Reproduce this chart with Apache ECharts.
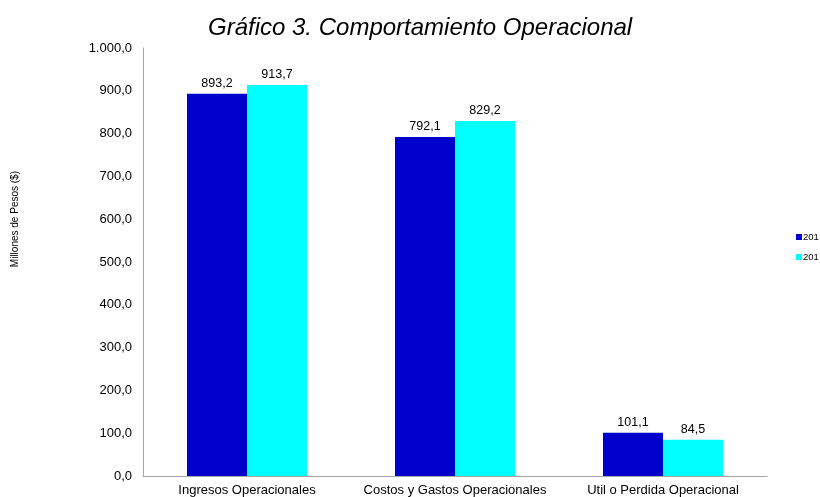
<!DOCTYPE html>
<html>
<head>
<meta charset="utf-8">
<script src="https://cdn.jsdelivr.net/npm/echarts@6/dist/echarts.min.js"></script>
<style>html,body{margin:0;padding:0;background:#fff}#c{width:820px;height:497px}</style>
</head>
<body>
<div id="c"></div>
<script>
const categories = ['Ingresos Operacionales', 'Costos y Gastos Operacionales', 'Util o Perdida Operacional'];
const seriesNames = ['2011', '2012'];
const valuesA = [893.2, 792.1, 101.1];
const valuesB = [913.7, 829.2, 84.5];
const yTicks = { min: 0, max: 1000, interval: 100 };

function fmt(v) {
  const s = Number(v).toFixed(1).split('.');
  const int = s[0].replace(/\B(?=(\d{3})+(?!\d))/g, '.');
  return int + ',' + s[1];
}

const font = 'Liberation Sans, Arial, sans-serif';
const chart = echarts.init(document.getElementById('c'));
chart.setOption({
  animation: false,
  title: {
    text: 'Gráfico 3. Comportamiento Operacional',
    left: 203, top: 11,
    textStyle: { fontFamily: font, fontSize: 24, fontStyle: 'italic', fontWeight: 'normal', color: '#000' }
  },
  legend: {
    orient: 'vertical', left: 791, top: 227,
    itemWidth: 6, itemHeight: 6, itemGap: 10,
    icon: 'rect',
    formatter: n => n.slice(0, 3),
    textStyle: { fontFamily: font, fontSize: 9.5, color: '#000', padding: [0, 0, 0, -4] }
  },
  graphic: [{
    type: 'text', left: 10, top: 171,
    rotation: Math.PI / 2,
    style: { text: 'Millones de Pesos ($)', font: '10px ' + font, fill: '#000' },
    originX: 0, originY: 0
  }],
  grid: { left: 143, right: 53, top: 48, bottom: 21, containLabel: false },
  xAxis: {
    type: 'category', data: categories,
    axisLine: { lineStyle: { color: '#a6a6a6', width: 1 } },
    axisTick: { show: false },
    axisLabel: { fontFamily: font, fontSize: 13, color: '#000', margin: 8, interval: 0 }
  },
  yAxis: {
    type: 'value', min: yTicks.min, max: yTicks.max, interval: yTicks.interval,
    axisLine: { show: true, lineStyle: { color: '#a6a6a6', width: 1 } },
    axisTick: { show: false },
    splitLine: { show: false },
    axisLabel: { fontFamily: font, fontSize: 13, color: '#000', margin: 11, formatter: fmt }
  },
  series: [
    { name: seriesNames[0], type: 'bar', data: valuesA, barWidth: 60, barGap: '0%',
      itemStyle: { color: '#0000CC' },
      label: { show: true, position: 'top', distance: 4, formatter: p => fmt(p.value), fontFamily: font, fontSize: 12.5, color: '#000' } },
    { name: seriesNames[1], type: 'bar', data: valuesB, barWidth: 60, barGap: '0%',
      itemStyle: { color: '#00FFFF' },
      label: { show: true, position: 'top', distance: 4, formatter: p => fmt(p.value), fontFamily: font, fontSize: 12.5, color: '#000' } }
  ]
});
</script>
</body>
</html>
